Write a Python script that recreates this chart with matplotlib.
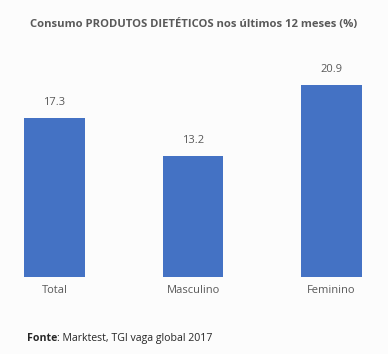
import matplotlib.pyplot as plt

categorias = ['Total', 'Masculino', 'Feminino']
valores = [17.3, 13.2, 20.9]
rotulos = ['17.3', '13.2', '20.9']

plt.rcParams['font.family'] = ['Open Sans', 'DejaVu Sans']
cinza = '#595959'
fundo = '#FCFCFC'

fig = plt.figure(figsize=(3.88, 3.54), dpi=100, facecolor=fundo)
ax = fig.add_axes([0, 1 - 277 / 354, 1, 227 / 354])
ax.set_facecolor(fundo)

x = range(len(categorias))
barras = ax.bar(x, valores, width=0.44, color='#4472C4')
for b, r in zip(barras, rotulos):
    ax.annotate(r, (b.get_x() + b.get_width() / 2, b.get_height()),
                xytext=(0, 7), textcoords='offset points',
                ha='center', va='bottom', fontsize=8, color=cinza)

ax.set_xlim(-54.5 / 138.5, (388 - 54.5) / 138.5)
ax.set_ylim(0, 227 / 9.19)
ax.set_xticks(list(x))
ax.set_xticklabels(categorias, fontsize=8, color=cinza)
ax.tick_params(axis='x', length=0, pad=6)
ax.set_yticks([])
for s in ax.spines.values():
    s.set_visible(False)

fig.text(0.5, 1 - 24 / 354, 'Consumo PRODUTOS DIETÉTICOS nos últimos 12 meses (%)',
         ha='center', va='center', fontsize=8.1, fontweight='bold', color=cinza)

# fonte: "Fonte" em negrito, resto normal
y_fonte = 1 - 341 / 354
t1 = fig.text(27 / 388, y_fonte, 'Fonte', ha='left', va='baseline',
              fontsize=7.6, fontweight='bold', color='#262626')
fig.canvas.draw()
bb = t1.get_window_extent()
fig.text(bb.x1 / fig.bbox.width, y_fonte, ': Marktest, TGI vaga global 2017',
         ha='left', va='baseline', fontsize=7.6, color='#262626')

fig.savefig('out.png', dpi=100, facecolor=fundo)
